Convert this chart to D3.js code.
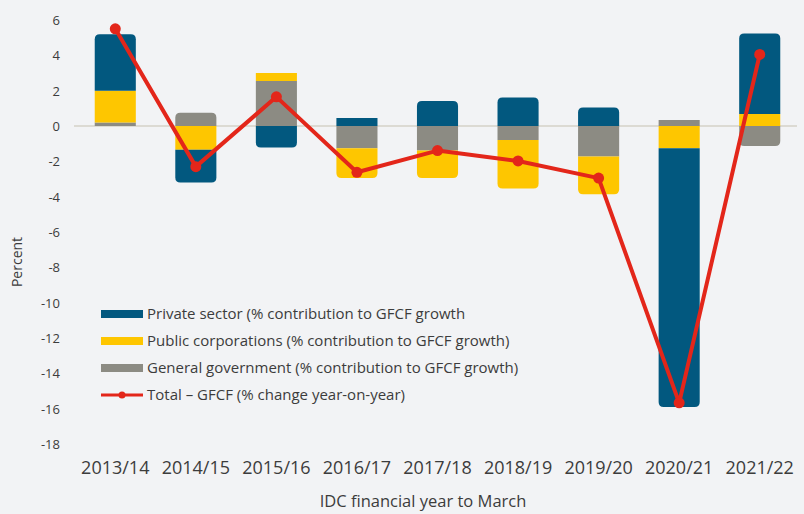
<!DOCTYPE html>
<html>
<head>
<meta charset="utf-8">
<script src="https://cdn.jsdelivr.net/npm/d3@7"></script>
<style>
  html, body { margin: 0; padding: 0; background: #f2f3f5; }
  svg { display: block; font-family: "Open Sans", "Noto Sans", sans-serif; }
</style>
</head>
<body>
<svg id="chart" width="804" height="514"></svg>
<script>
const categories = ["2013/14","2014/15","2015/16","2016/17","2017/18","2018/19","2019/20","2020/21","2021/22"];
const privateSector = [3.2, -1.85, -1.22, 0.45, 1.41, 1.62, 1.05, -14.65, 4.55];
const publicCorps   = [1.8, -1.35, 0.45, -1.69, -1.56, -2.75, -2.13, -1.26, 0.68];
const generalGov    = [0.2, 0.75, 2.55, -1.26, -1.39, -0.79, -1.73, 0.34, -1.13];
const totalGFCF     = [5.5, -2.3, 1.65, -2.62, -1.39, -1.98, -2.95, -15.67, 4.05];
const yTicks = [6,4,2,0,-2,-4,-6,-8,-10,-12,-14,-16,-18];
const seriesNames = [
  "Private sector (% contribution to GFCF growth",
  "Public corporations (% contribution to GFCF growth)",
  "General government (% contribution to GFCF growth)",
  "Total \u2013 GFCF (% change year-on-year)"
];

const colors = {priv: "#02587f", pub: "#fec600", gov: "#8c8b83", total: "#e3261a"};

const svg = d3.select("#chart");
const x = d3.scaleBand().domain(categories).range([75, 800]).paddingInner(0.49).paddingOuter(0.245);
const y = d3.scaleLinear().domain([-18, 6]).range([444, 20]);

const rows = categories.map((c, i) => ({cat: c, gov: generalGov[i], pub: publicCorps[i], priv: privateSector[i]}));
const keys = ["gov", "pub", "priv"];
const stack = d3.stack().keys(keys).offset(d3.stackOffsetDiverging);
const stacked = stack(rows);

// y-axis labels
const yAxis = d3.axisLeft(y).tickValues(yTicks).tickSize(0).tickPadding(0).tickFormat(d => String(d));
const ya = svg.append("g").attr("transform", "translate(60,0)").call(yAxis);
ya.select(".domain").remove();
ya.selectAll("text").attr("font-size", 13).attr("fill", "#3c3c3c").attr("font-family", "Open Sans").attr("dy", "0.35em");

// zero line
svg.append("line").attr("x1", 74).attr("x2", 797).attr("y1", y(0)).attr("y2", y(0))
  .attr("stroke", "#dcdad3").attr("stroke-width", 2);

function segPath(x0, w, a, b, roundTop, roundBottom) {
  const top = Math.min(a, b), bot = Math.max(a, b);
  const h = bot - top;
  const rt = roundTop && h > 10 ? 5 : 0;
  const rb = roundBottom && h > 10 ? 5 : 0;
  const p = d3.path();
  p.moveTo(x0 + rt, top);
  p.lineTo(x0 + w - rt, top);
  if (rt) p.quadraticCurveTo(x0 + w, top, x0 + w, top + rt);
  p.lineTo(x0 + w, bot - rb);
  if (rb) p.quadraticCurveTo(x0 + w, bot, x0 + w - rb, bot);
  p.lineTo(x0 + rb, bot);
  if (rb) p.quadraticCurveTo(x0, bot, x0, bot - rb);
  p.lineTo(x0, top + rt);
  if (rt) p.quadraticCurveTo(x0, top, x0 + rt, top);
  p.closePath();
  return p.toString();
}

const extent = rows.map((r, i) => {
  let maxV = 0, minV = 0;
  stacked.forEach(s => { maxV = Math.max(maxV, s[i][1]); minV = Math.min(minV, s[i][0]); });
  return {maxV, minV};
});

stacked.forEach(s => {
  svg.append("g").selectAll("path").data(s).join("path")
    .attr("fill", colors[s.key])
    .attr("d", (d, i) => {
      const v0 = d[0], v1 = d[1];
      if (v0 === v1) return null;
      const isTop = v1 > 0 && v1 === extent[i].maxV;
      const isBot = v0 < 0 && v0 === extent[i].minV;
      return segPath(x(d.data.cat), x.bandwidth(), y(v1), y(v0), isTop, isBot);
    });
});

// total line
const line = d3.line().x((d, i) => x(categories[i]) + x.bandwidth() / 2).y(d => y(d));
svg.append("path").datum(totalGFCF).attr("d", line).attr("fill", "none")
  .attr("stroke", colors.total).attr("stroke-width", 4).attr("stroke-linejoin", "round");
svg.append("g").selectAll("circle").data(totalGFCF).join("circle")
  .attr("cx", (d, i) => x(categories[i]) + x.bandwidth() / 2)
  .attr("cy", d => y(d)).attr("r", 5.5).attr("fill", colors.total);

// x-axis labels
const xAxis = d3.axisBottom(x).tickSize(0).tickPadding(0);
const xa = svg.append("g").attr("transform", "translate(0,474)").call(xAxis);
xa.select(".domain").remove();
xa.selectAll("text").attr("font-size", 18).attr("fill", "#3c3c3c").attr("font-family", "Open Sans").attr("dy", 0).attr("y", 0);

// axis titles
svg.append("text").attr("x", 423).attr("y", 507).attr("text-anchor", "middle")
  .attr("font-size", 16.5).attr("fill", "#3c3c3c").text("IDC financial year to March");
svg.append("text").attr("transform", "translate(22,262) rotate(-90)").attr("text-anchor", "middle")
  .attr("font-size", 14).attr("fill", "#3c3c3c").text("Percent");

// legend
const legY = [314, 341, 368, 395];
const legCols = [colors.priv, colors.pub, colors.gov];
const leg = svg.append("g");
legCols.forEach((c, i) => {
  leg.append("rect").attr("x", 101).attr("y", legY[i] - 4).attr("width", 42).attr("height", 8).attr("fill", c);
});
leg.append("line").attr("x1", 101).attr("x2", 143).attr("y1", legY[3]).attr("y2", legY[3])
  .attr("stroke", colors.total).attr("stroke-width", 3);
leg.append("circle").attr("cx", 122).attr("cy", legY[3]).attr("r", 3.5).attr("fill", colors.total);
seriesNames.forEach((n, i) => {
  leg.append("text").attr("x", 147).attr("y", legY[i] + 5).attr("font-size", 15)
    .attr("fill", "#3c3c3c").text(n);
});
</script>
</body>
</html>
